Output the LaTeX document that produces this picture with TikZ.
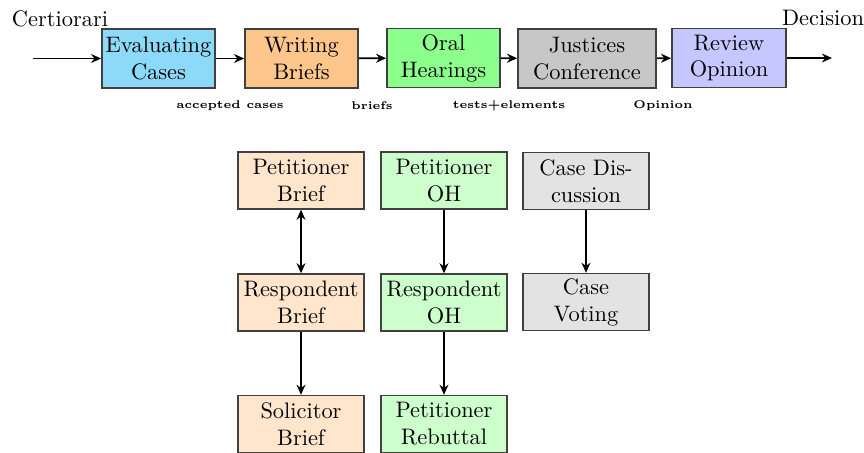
\documentclass[tikz,border=0pt]{standalone}
\usetikzlibrary{arrows.meta}
\begin{document}
\begin{tikzpicture}[x=0.4464pt,y=-0.4464pt,
  stage/.style={draw=black!75,thick,minimum height=26.3pt,inner sep=1pt,align=center,font=\normalsize},
  sub/.style={draw=black!75,semithick,minimum width=56.2pt,minimum height=25.5pt,inner sep=1pt,align=center},
  flow/.style={thick,-{Stealth[length=4.5pt,width=4pt]}},
  link/.style={semithick,-{Stealth[length=4.5pt,width=4pt]}},
  twoway/.style={semithick,{Stealth[length=4.5pt,width=4pt]}-{Stealth[length=4.5pt,width=4pt]}},
  tag/.style={font=\tiny\bfseries}]
\useasboundingbox (0,0) rectangle (864,452);
% main pipeline
\node[stage,fill=cyan!45!white,minimum width=50.4pt] (eval) at (158.5,58.5) {Evaluating\\Cases};
\node[stage,fill=orange!45!white,minimum width=50.4pt] (write) at (301.5,58.5) {Writing\\Briefs};
\node[stage,fill=green!45!white,minimum width=50.4pt] (oral) at (443.5,58) {Oral\\Hearings};
\node[stage,fill=black!22,minimum width=61.6pt] (just) at (587,58.5) {Justices\\Conference};
\node[stage,fill=blue!22!white,minimum width=50.9pt] (review) at (729,58) {Review\\Opinion};
\coordinate (in) at (33,58.5);
\coordinate (out) at (832,58);
\node (cert) at (60,19) {Certiorari};
\node (dec) at (823,18) {Decision};
\draw[flow] (in) -- (eval);
\draw[flow] (eval) -- (write);
\draw[flow] (write) -- (oral);
\draw[flow] (oral) -- (just);
\draw[flow] (just) -- (review);
\draw[flow] (review) -- (out);
% hand-off labels
\node[tag] (l1) at (230,106) {accepted cases};
\node[tag] (l2) at (372,106) {briefs};
\node[tag] (l3) at (509,106) {tests+elements};
\node[tag] (l4) at (663,106) {Opinion};
% briefs column
\node[sub,fill=orange!20!white] (pb) at (301,180.5) {Petitioner\\Brief};
\node[sub,fill=orange!20!white] (rb) at (301,302.5) {Respondent\\Brief};
\node[sub,fill=orange!20!white] (sb) at (301,424) {Solicitor\\Brief};
% oral hearing column
\node[sub,fill=green!20!white] (po) at (444,180.5) {Petitioner\\OH};
\node[sub,fill=green!20!white] (ro) at (444,302.5) {Respondent\\OH};
\node[sub,fill=green!20!white] (pr) at (444,424) {Petitioner\\Rebuttal};
% conference column
\node[sub,fill=black!11] (cd) at (586,181) {Case Dis-\\cussion};
\node[sub,fill=black!11] (cv) at (586,302) {Case\\Voting};
\draw[twoway] (pb) -- (rb);
\draw[link] (rb) -- (sb);
\draw[link] (po) -- (ro);
\draw[link] (ro) -- (pr);
\draw[link] (cd) -- (cv);
\end{tikzpicture}
\end{document}
